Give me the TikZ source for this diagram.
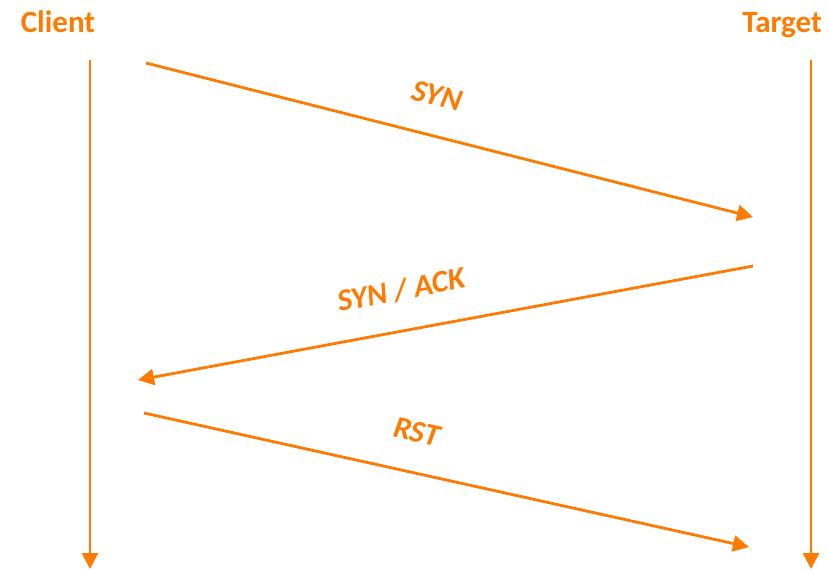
\documentclass[tikz,border=0pt]{standalone}
\usepackage{fontspec}
\setmainfont{Carlito}
\usetikzlibrary{arrows.meta}

\definecolor{tcporange}{HTML}{FF7A00}

\tikzset{
  party/.style={font=\fontsize{15.5}{18}\selectfont\bfseries, text=tcporange, anchor=base, inner sep=0pt},
  msg/.style={font=\fontsize{15.5}{18}\selectfont\bfseries\itshape, text=tcporange, inner sep=0pt},
  flow/.style={draw=tcporange, line width=1.4pt, -{Triangle[length=8pt,width=8pt]}}
}

\begin{document}
\begin{tikzpicture}[x=0.5pt,y=-0.5pt]
   \useasboundingbox (0,0) rectangle (828,569);

   % the two ends
   \node[party] (client) at (58,32) {Client};
   \node[party] (target) at (782,32) {Target};

   % time lines
   \coordinate (c0) at (90,60);   \coordinate (c1) at (90,569);
   \coordinate (t0) at (811,60);  \coordinate (t1) at (811,569);
   \draw[flow] (c0) -- (c1);
   \draw[flow] (t0) -- (t1);

   % handshake, then reset
   \coordinate (syn0) at (146,63);  \coordinate (syn1) at (753,217);
   \coordinate (ack0) at (753,266); \coordinate (ack1) at (138,380);
   \coordinate (rst0) at (144,413); \coordinate (rst1) at (749,547);
   \draw[flow] (syn0) -- (syn1);
   \draw[flow] (ack0) -- (ack1);
   \draw[flow] (rst0) -- (rst1);

   \node[msg, rotate=-14.3] (synlbl) at (437,96) {SYN};
   \node[msg, rotate=10.8] (acklbl) at (401,290) {SYN / ACK};
   \node[msg, rotate=-12.5] (rstlbl) at (417,432) {RST};
\end{tikzpicture}
\end{document}
